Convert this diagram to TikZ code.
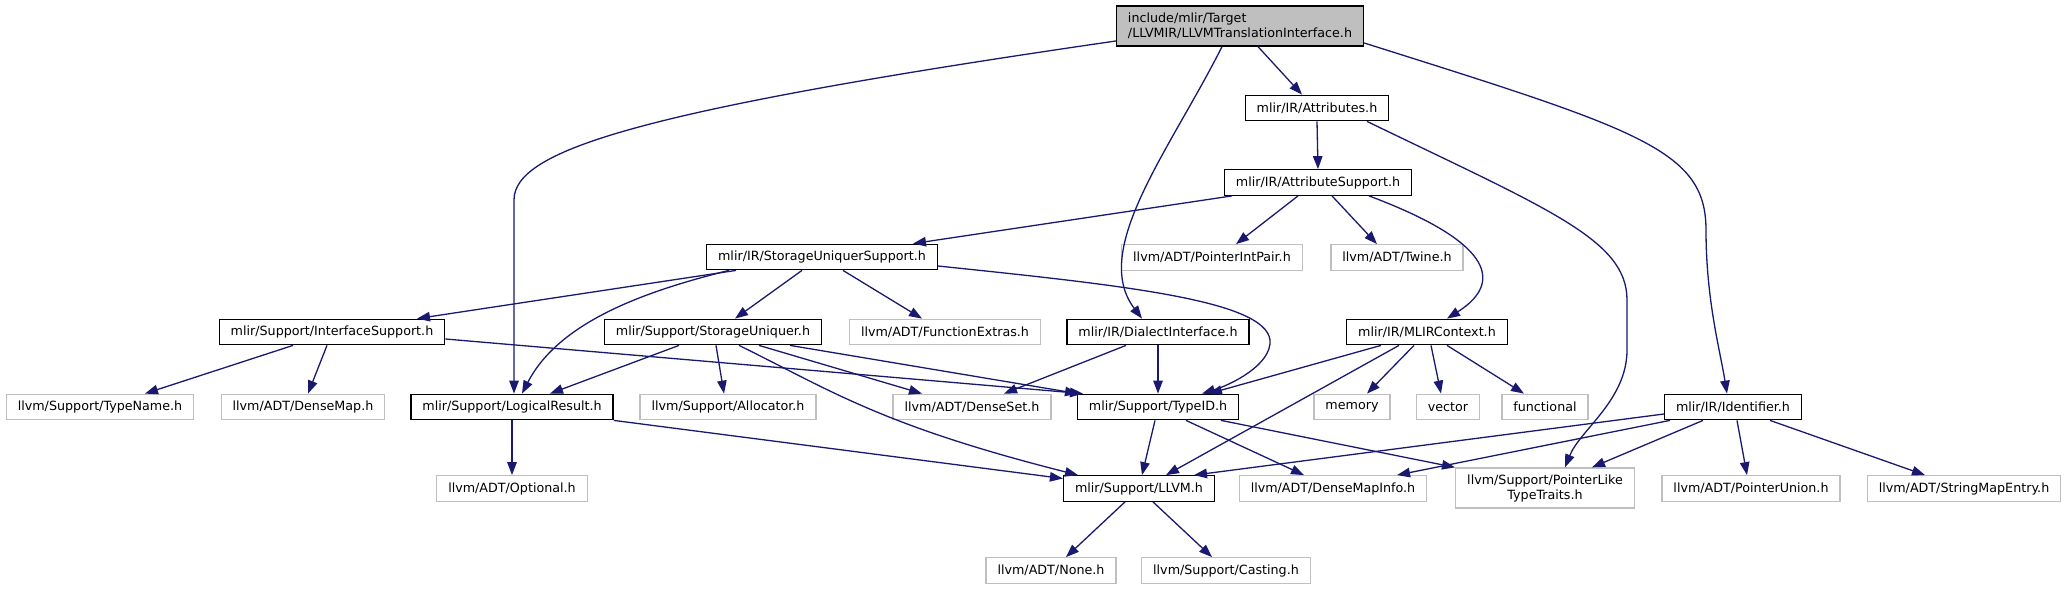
\documentclass[tikz,border=0pt]{standalone}
\usepackage{fontspec}
\setmainfont{DejaVu Sans}
\usetikzlibrary{arrows.meta}
\definecolor{edgeblue}{RGB}{25,25,112}
\definecolor{sysgray}{RGB}{191,191,191}

\begin{document}
\begin{tikzpicture}[x=1pt, y=-1pt,
    hdr/.style={rectangle, draw=black, line width=1.3pt, minimum height=25.5pt,
      inner xsep=11.5pt, inner ysep=0pt, font=\fontsize{12.7}{15}\selectfont},
    sysh/.style={hdr, draw=sysgray, line width=1.3pt},
    rootbox/.style={hdr, fill=sysgray, align=left, minimum height=40pt},
    dep/.style={draw=edgeblue, line width=1.3pt, -{Triangle[length=13pt,width=9.5pt]}}]
  \useasboundingbox (0,0) rectangle (2067,589);

  \node[rootbox] (root) at (1240,26) {include/mlir/Target\\/LLVMIR/LLVMTranslationInterface.h};
  \node[hdr] (attr) at (1317,108) {mlir/IR/Attributes.h};
  \node[hdr] (attrsup) at (1318,182.5) {mlir/IR/AttributeSupport.h};
  \node[sysh] (pip) at (1212,257.5) {llvm/ADT/PointerIntPair.h};
  \node[sysh] (twine) at (1397,257.5) {llvm/ADT/Twine.h};
  \node[hdr] (sus) at (822,257) {mlir/IR/StorageUniquerSupport.h};

  \node[hdr] (ifsup) at (332,332) {mlir/Support/InterfaceSupport.h};
  \node[hdr] (suniq) at (713,332) {mlir/Support/StorageUniquer.h};
  \node[sysh] (fextra) at (945,332) {llvm/ADT/FunctionExtras.h};
  \node[hdr] (dialect) at (1158,332) {mlir/IR/DialectInterface.h};
  \node[hdr] (mctx) at (1427,332) {mlir/IR/MLIRContext.h};

  \node[sysh] (tname) at (100,407) {llvm/Support/TypeName.h};
  \node[sysh] (dmap) at (303,407) {llvm/ADT/DenseMap.h};
  \node[hdr] (lres) at (512,407) {mlir/Support/LogicalResult.h};
  \node[sysh] (alloc) at (728,407) {llvm/Support/Allocator.h};
  \node[sysh] (dset) at (972,407) {llvm/ADT/DenseSet.h};
  \node[hdr] (tid) at (1158,407) {mlir/Support/TypeID.h};
  \node[sysh] (mem) at (1352,407) {memory};
  \node[sysh] (vec) at (1448,407) {vector};
  \node[sysh] (func) at (1545,407) {functional};
  \node[hdr] (ident) at (1733,407) {mlir/IR/Identifier.h};

  \node[sysh] (optn) at (512,488.5) {llvm/ADT/Optional.h};
  \node[hdr] (llvm) at (1139,488.5) {mlir/Support/LLVM.h};
  \node[sysh] (dminfo) at (1333,488.5) {llvm/ADT/DenseMapInfo.h};
  \node[sysh, align=center, minimum height=40pt] (plt) at (1545,488) {llvm/Support/PointerLike\\TypeTraits.h};
  \node[sysh] (punion) at (1751,488.5) {llvm/ADT/PointerUnion.h};
  \node[sysh] (smentry) at (1964,488.5) {llvm/ADT/StringMapEntry.h};

  \node[sysh] (none) at (1051,570.5) {llvm/ADT/None.h};
  \node[sysh] (cast) at (1226,570.5) {llvm/Support/Casting.h};

  \foreach \src/\sdx/\dst/\ddx in {root/18/attr/-15, attr/0/attrsup/0,
      attrsup/-86/sus/91, attrsup/-20/pip/24, attrsup/14/twine/-20,
      sus/-86/ifsup/85, sus/-20/suniq/22, sus/21/fextra/-23,
      ifsup/-39/tname/45, ifsup/-5/dmap/5,
      suniq/-34/lres/38, suniq/3/alloc/-4, suniq/46/dset/-50, suniq/77/tid/-80,
      dialect/-32/dset/32, dialect/0/tid/0,
      mctx/-46/tid/51, mctx/-28/llvm/27, mctx/-13/mem/15, mctx/4/vec/-7, mctx/20/func/-21,
      tid/-3/llvm/3, tid/28/dminfo/-29, tid/63/plt/-90,
      lres/0/optn/0, llvm/-14/none/15, llvm/14/cast/-14,
      ident/-63/dminfo/64, ident/-30/plt/47, ident/4/punion/-4, ident/37/smentry/-39}
    \draw[dep] ([xshift=\sdx]\src.south) -- ([xshift=\ddx]\dst.north);

  \draw[dep] ([yshift=-15]root.west) .. controls (640,110) and (514,150) .. (514,200) -- ([xshift=2]lres.north);
  \draw[dep] ([xshift=-18]root.south) .. controls (1170,150) and (1090,250) .. ([xshift=-16]dialect.north);
  \draw[dep] ([yshift=-17]root.east) .. controls (1640,130) and (1706,150) .. (1706,230)
    .. controls (1706,300) and (1720,350) .. ([xshift=-6]ident.north);
  \draw[dep] ([xshift=50]attr.south) .. controls (1550,210) and (1627,240) .. (1627,300) -- (1627,350)
    .. controls (1627,400) and (1580,430) .. ([xshift=20]plt.north);
  \draw[dep] ([xshift=51]attrsup.south) .. controls (1500,245) and (1500,285) .. ([xshift=20]mctx.north);
  \draw[dep] ([xshift=-93]sus.south) .. controls (650,290) and (560,320) .. ([xshift=10]lres.north);
  \draw[dep] ([yshift=-9]sus.east) .. controls (1120,285) and (1265,300) .. (1270,340)
    .. controls (1272,365) and (1230,385) .. ([xshift=44]tid.north);
  \draw[dep] ([xshift=26]suniq.south) .. controls (830,390) and (880,425) .. ([xshift=-61]llvm.north);
  \draw[dep] ([yshift=-7]ifsup.east) -- ([xshift=-75]tid.north);
  \draw[dep] (lres.south east) -- ([yshift=10]llvm.west);
  \draw[dep] ([yshift=-7]ident.west) -- ([xshift=55]llvm.north);
\end{tikzpicture}
\end{document}
